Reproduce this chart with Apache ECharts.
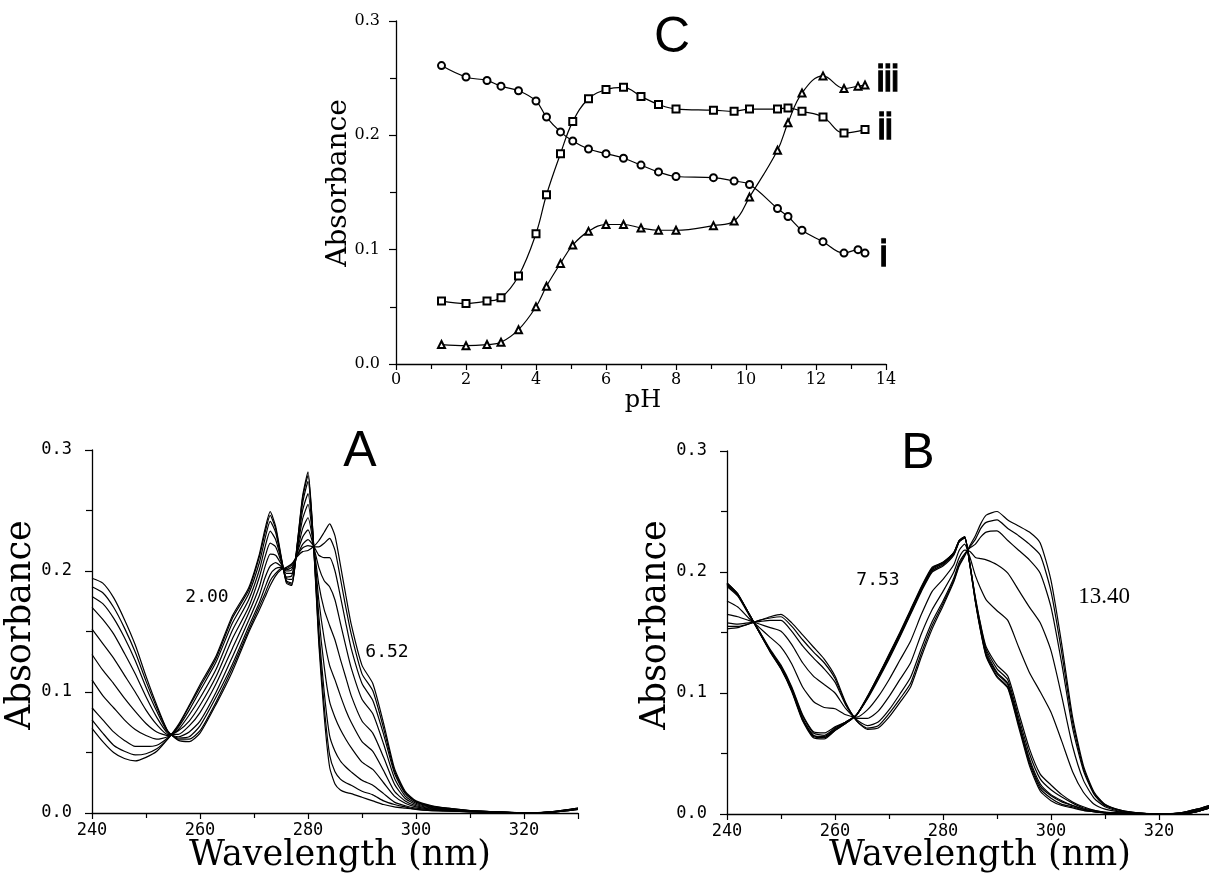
<!DOCTYPE html>
<html>
<head>
<meta charset="utf-8">
<script src="https://cdn.jsdelivr.net/npm/echarts@6/dist/echarts.min.js"></script>
<style>
  html, body { margin: 0; padding: 0; background: #fff; }
  #chart { width: 1209px; height: 880px; }
</style>
</head>
<body>
<div id="chart"></div>
<script>
// ---- Panel C: absorbance vs pH at three wavelengths ----
const pHValues = [1.3, 2.0, 2.6, 3.0, 3.5, 4.0, 4.3, 4.7, 5.05, 5.5, 6.0, 6.5, 7.0, 7.5, 8.0, 9.07, 9.66, 10.1, 10.9, 11.2, 11.6, 12.2, 12.8, 13.2, 13.4];
const curveI   = [0.261, 0.251, 0.248, 0.243, 0.239, 0.230, 0.216, 0.203, 0.195, 0.188, 0.184, 0.180, 0.174, 0.168, 0.164, 0.163, 0.160, 0.157, 0.136, 0.129, 0.117, 0.107, 0.097, 0.100, 0.097];
const curveII  = [0.055, 0.053, 0.055, 0.058, 0.077, 0.114, 0.148, 0.184, 0.212, 0.232, 0.240, 0.242, 0.234, 0.227, 0.223, 0.222, 0.221, 0.223, 0.223, 0.224, 0.221, 0.216, 0.202, null, 0.205];
const curveIII = [0.017, 0.016, 0.017, 0.019, 0.030, 0.050, 0.068, 0.088, 0.104, 0.116, 0.122, 0.122, 0.119, 0.117, 0.117, 0.121, 0.125, 0.146, 0.187, 0.211, 0.237, 0.252, 0.241, 0.243, 0.244];

// ---- Panel A: spectra from pH 2.00 to 6.52 ----
const waveA = [240,242,244,246,248,250,252,254,256,258,260,263,266,269,271,272,273,274,275,276,277,278,279,280,281,282,283,284,285,286,287,288,290,292,294,296,298,300,303,306,310,315,320,325,330];
const specA1  = [.070,.059,.050,.045,.043,.046,.051,.061,.073,.089,.106,.130,.163,.186,.214,.234,.249,.237,.213,.190,.188,.222,.262,.282,.225,.140,.080,.038,.024,.019,.017,.016,.013,.010,.007,.005,.004,.003,.002,.0015,.001,.0005,0,.0005,.003];
const specA2  = [.077,.066,.056,.051,.048,.049,.053,.061,.072,.088,.104,.128,.161,.184,.212,.231,.246,.235,.212,.191,.189,.222,.260,.279,.225,.144,.088,.048,.034,.028,.025,.023,.018,.015,.010,.007,.005,.003,.002,.0018,.001,.0006,0,.0006,.003];
const specA3  = [.087,.077,.067,.060,.055,.055,.056,.062,.071,.085,.101,.125,.157,.181,.207,.226,.241,.232,.211,.192,.190,.221,.256,.274,.224,.151,.100,.064,.051,.043,.038,.034,.027,.023,.016,.009,.006,.004,.0025,.002,.0012,.0006,0,.0006,.003];
const specA4  = [.110,.097,.087,.077,.069,.064,.061,.063,.069,.081,.095,.119,.151,.176,.201,.219,.233,.226,.210,.194,.193,.219,.250,.264,.224,.163,.121,.092,.079,.069,.061,.054,.042,.036,.025,.014,.008,.005,.003,.002,.0013,.0007,0,.0007,.0033];
const specA5  = [.131,.118,.107,.095,.084,.074,.067,.064,.068,.076,.089,.113,.144,.170,.195,.211,.223,.220,.208,.195,.196,.218,.243,.255,.223,.176,.144,.122,.110,.097,.085,.075,.059,.051,.035,.018,.010,.006,.0035,.0025,.0015,.0007,0,.0007,.0034];
const specA6  = [.152,.140,.128,.114,.100,.085,.073,.065,.065,.072,.083,.107,.136,.165,.187,.203,.214,.213,.206,.198,.198,.216,.235,.244,.222,.189,.168,.155,.143,.127,.112,.097,.076,.066,.046,.024,.012,.007,.004,.003,.0016,.0008,0,.0008,.0036];
const specA7  = [.170,.160,.148,.132,.115,.096,.079,.066,.063,.067,.076,.100,.129,.159,.180,.194,.204,.207,.204,.200,.201,.215,.228,.234,.221,.203,.192,.187,.176,.157,.138,.120,.094,.082,.057,.029,.014,.008,.0045,.0033,.0017,.0009,0,.0008,.0037];
const specA8  = [.179,.173,.161,.145,.126,.104,.084,.067,.062,.063,.072,.096,.123,.154,.174,.186,.197,.202,.203,.201,.203,.213,.222,.226,.221,.213,.211,.211,.200,.179,.157,.136,.107,.093,.065,.033,.016,.009,.005,.0036,.0018,.0009,0,.0009,.0038];
const specA9  = [.187,.182,.170,.153,.133,.109,.087,.068,.061,.061,.068,.092,.120,.151,.171,.181,.192,.198,.202,.202,.205,.213,.219,.221,.220,.220,.223,.227,.217,.194,.170,.148,.115,.101,.070,.035,.017,.0095,.0055,.0038,.0019,.001,0,.001,.004];
const specA10 = [.194,.190,.178,.160,.139,.113,.089,.068,.060,.059,.066,.090,.117,.149,.168,.178,.188,.196,.201,.203,.206,.212,.216,.217,.220,.225,.232,.239,.229,.205,.180,.156,.122,.107,.074,.037,.018,.010,.006,.004,.002,.001,0,.001,.004];
const spectraA = [specA1, specA2, specA3, specA4, specA5, specA6, specA7, specA8, specA9, specA10];

// ---- Panel B: spectra from pH 7.53 to 13.40 ----
const waveB = [240,242,244,246,248,250,252,254,256,258,260,262,264,266,268,270,272,274,276,278,280,282,283,284,285,286,287,288,290,292,294,296,298,300,302,304,306,308,310,313,316,320,324,327,330];
const specB1  = [.191,.182,.166,.150,.134,.120,.101,.077,.063,.062,.069,.075,.082,.097,.114,.132,.150,.169,.188,.204,.208,.216,.226,.229,.205,.175,.150,.130,.113,.104,.072,.040,.019,.011,.007,.005,.003,.002,.001,.0005,0,0,0,.002,.006];
const specB2  = [.191,.182,.166,.150,.134,.120,.102,.078,.064,.063,.069,.075,.082,.097,.114,.131,.149,.168,.187,.203,.208,.216,.226,.229,.205,.176,.151,.131,.114,.105,.074,.042,.021,.013,.008,.006,.003,.002,.001,.0005,0,0,0,.002,.006];
const specB3  = [.190,.181,.166,.150,.135,.121,.102,.078,.065,.063,.070,.075,.082,.096,.113,.131,.149,.168,.187,.203,.207,.216,.226,.229,.205,.176,.152,.132,.116,.107,.075,.044,.023,.015,.010,.007,.004,.002,.001,.0006,0,0,0,.002,.006];
const specB4  = [.190,.181,.166,.150,.135,.121,.103,.079,.065,.064,.070,.076,.082,.096,.113,.130,.148,.167,.186,.202,.207,.215,.225,.229,.206,.177,.153,.134,.117,.108,.077,.046,.025,.016,.011,.007,.004,.002,.001,.0006,0,0,0,.002,.006];
const specB5  = [.189,.181,.166,.151,.135,.122,.104,.081,.067,.065,.071,.076,.082,.096,.112,.129,.147,.166,.185,.201,.206,.215,.225,.228,.206,.178,.155,.136,.120,.111,.080,.050,.029,.020,.014,.009,.005,.003,.0013,.0007,0,0,0,.002,.0061];
const specB6  = [.188,.180,.165,.151,.136,.123,.105,.082,.068,.067,.072,.076,.082,.095,.111,.128,.146,.165,.184,.200,.205,.214,.225,.228,.206,.179,.156,.138,.123,.114,.084,.054,.033,.024,.016,.010,.006,.003,.0015,.0008,.0001,0,.0001,.0023,.0062];
const specB7  = [.176,.171,.162,.154,.146,.138,.124,.105,.093,.088,.087,.082,.080,.086,.097,.111,.127,.143,.165,.184,.194,.206,.218,.223,.212,.197,.186,.177,.168,.160,.138,.117,.101,.084,.060,.035,.018,.008,.004,.0015,.0005,0,.0005,.003,.007];
const specB8  = [.165,.163,.160,.157,.154,.151,.140,.125,.114,.107,.100,.087,.079,.079,.085,.097,.111,.125,.149,.169,.184,.200,.212,.218,.217,.212,.211,.210,.206,.199,.185,.171,.158,.135,.097,.056,.028,.013,.006,.002,.0007,0,.0007,.0034,.0074];
const specB9  = [.158,.157,.158,.159,.160,.160,.151,.139,.129,.120,.109,.090,.078,.073,.076,.086,.099,.113,.137,.159,.176,.195,.208,.215,.220,.223,.229,.233,.234,.226,.218,.210,.199,.171,.124,.071,.036,.016,.007,.0027,.0009,0,.0009,.0038,.0078];
const specB10 = [.155,.155,.157,.160,.162,.163,.155,.144,.134,.125,.112,.091,.077,.071,.073,.083,.095,.108,.133,.156,.174,.193,.206,.214,.221,.227,.236,.241,.243,.236,.230,.223,.214,.184,.133,.076,.038,.017,.0077,.003,.001,0,.001,.004,.008];
const specB11 = [.153,.154,.157,.160,.163,.165,.158,.148,.138,.128,.114,.092,.077,.070,.071,.080,.092,.105,.130,.153,.172,.192,.205,.213,.222,.230,.240,.247,.250,.243,.238,.233,.224,.193,.140,.080,.040,.018,.008,.003,.001,0,.001,.004,.008];
const spectraB = [specB1, specB2, specB3, specB4, specB5, specB6, specB7, specB8, specB9, specB10, specB11];

// ---- Tick ranges ----
const absTicks = { min: 0, max: 0.3, step: 0.1 };
const pHTicks = { min: 0, max: 14, step: 2 };
const waveTicks = { min: 240, max: 330, step: 20 };

const INK = '#000';

function pairs(xs, ys) {
  return xs.map((x, k) => [x, ys[k]]).filter(p => p[1] !== null && p[1] !== undefined);
}

function xAxisCfg(gridIndex, ticks, labelStyle) {
  return {
    type: 'value', gridIndex: gridIndex,
    min: ticks.min, max: ticks.max, interval: ticks.step,
    axisLine: { show: true, onZero: false, lineStyle: { color: INK, width: 1.3 } },
    axisTick: { show: true, length: 6, lineStyle: { color: INK, width: 1.2 } },
    minorTick: { show: true, splitNumber: 2, length: 5, lineStyle: { color: INK, width: 1.2 } },
    splitLine: { show: false },
    axisLabel: Object.assign({
      color: INK,
      formatter: v => (Math.abs(v % ticks.step) < 1e-9 ? String(v) : '')
    }, labelStyle)
  };
}

function yAxisCfg(gridIndex, ticks, labelStyle) {
  return {
    type: 'value', gridIndex: gridIndex,
    min: ticks.min, max: ticks.max, interval: ticks.step,
    axisLine: { show: true, onZero: false, lineStyle: { color: INK, width: 1.3 } },
    axisTick: { show: true, length: 7, lineStyle: { color: INK, width: 1.2 } },
    minorTick: { show: true, splitNumber: 2, length: 6, lineStyle: { color: INK, width: 1.2 } },
    splitLine: { show: false },
    axisLabel: Object.assign({ color: INK, formatter: v => v.toFixed(1) }, labelStyle)
  };
}

const cTickFont = { fontFamily: 'DejaVu Serif', fontSize: 16 };
const specTickFont = { fontFamily: 'DejaVu Sans Mono', fontSize: 17 };

function markerSeries(name, ys, symbol) {
  return {
    name: name, type: 'line', xAxisIndex: 0, yAxisIndex: 0,
    data: pairs(pHValues, ys),
    smooth: 0.4,
    symbol: symbol, symbolSize: 7,
    showAllSymbol: true,
    lineStyle: { color: INK, width: 1.2 },
    itemStyle: { color: INK, borderColor: INK, borderWidth: 1.2 },
    emphasis: { disabled: true },
    z: 3
  };
}

function spectrumSeries(axisIndex, waves, ys, idx) {
  return {
    name: 'spectrum ' + axisIndex + '-' + idx, type: 'line',
    xAxisIndex: axisIndex, yAxisIndex: axisIndex,
    data: pairs(waves, ys),
    smooth: 0.2,
    symbol: 'none',
    lineStyle: { color: INK, width: 1.2 },
    emphasis: { disabled: true }
  };
}

function text(str, x, y, font, extra) {
  return Object.assign({
    type: 'text', x: x, y: y, silent: true,
    style: { text: str, font: font, fill: INK, align: 'center', verticalAlign: 'middle' }
  }, extra || {});
}

// heavy, condensed identifiers for the three pH curves
function curveTag(str, x, y) {
  return {
    type: 'text', x: x, y: y, silent: true, scaleX: 0.72,
    style: {
      text: str, font: 'bold 36px "Liberation Sans"', fill: INK,
      stroke: INK, lineWidth: 1.6, align: 'left', verticalAlign: 'middle'
    }
  };
}

const series = [
  markerSeries('i', curveI, 'emptyCircle'),
  markerSeries('ii', curveII, 'emptyRect'),
  markerSeries('iii', curveIII, 'emptyTriangle')
]
  .concat(spectraA.map((s, k) => spectrumSeries(1, waveA, s, k)))
  .concat(spectraB.map((s, k) => spectrumSeries(2, waveB, s, k)));

const titleFont = '"DejaVu Serif"';

const option = {
  backgroundColor: '#fff',
  animation: false,
  grid: [
    { left: 396, top: 21, width: 490, height: 343, containLabel: false, outerBoundsMode: 'none' },
    { left: 92, top: 450, width: 486, height: 363, containLabel: false, outerBoundsMode: 'none' },
    { left: 727, top: 451, width: 486, height: 363, containLabel: false, outerBoundsMode: 'none' }
  ],
  xAxis: [
    xAxisCfg(0, pHTicks, Object.assign({ margin: 8 }, cTickFont)),
    xAxisCfg(1, waveTicks, Object.assign({ margin: 9 }, specTickFont)),
    xAxisCfg(2, waveTicks, Object.assign({ margin: 9 }, specTickFont))
  ],
  yAxis: [
    yAxisCfg(0, absTicks, Object.assign({ margin: 16 }, cTickFont)),
    yAxisCfg(1, absTicks, Object.assign({ margin: 20 }, specTickFont)),
    yAxisCfg(2, absTicks, Object.assign({ margin: 20 }, specTickFont))
  ],
  series: series,
  graphic: [
    // panel letters
    text('C', 672, 38, '50px "Liberation Sans"'),
    text('A', 360, 452, '50px "Liberation Sans"'),
    text('B', 918, 454, '50px "Liberation Sans"'),
    // curve identifiers in panel C
    curveTag('iii', 877, 81),
    curveTag('ii', 878, 129),
    curveTag('i', 880, 256),
    // pH annotations on the spectra
    text('2.00', 207, 597, '18px "DejaVu Sans Mono"'),
    text('6.52', 387, 652, '18px "DejaVu Sans Mono"'),
    text('7.53', 878, 580, '18px "DejaVu Sans Mono"'),
    text('13.40', 1104, 597, '23px "Liberation Serif"'),
    // axis titles
    text('Absorbance', 339, 183, '28px ' + titleFont, { rotation: Math.PI / 2 }),
    text('pH', 643, 401, '24px ' + titleFont),
    text('Absorbance', 21, 625, '35px ' + titleFont, { rotation: Math.PI / 2 }),
    text('Absorbance', 656, 625, '35px ' + titleFont, { rotation: Math.PI / 2 }),
    text('Wavelength (nm)', 340, 856, '35px ' + titleFont),
    text('Wavelength (nm)', 980, 856, '35px ' + titleFont)
  ]
};

const chart = echarts.init(document.getElementById('chart'), null, { renderer: 'canvas' });
chart.setOption(option);
</script>
</body>
</html>
